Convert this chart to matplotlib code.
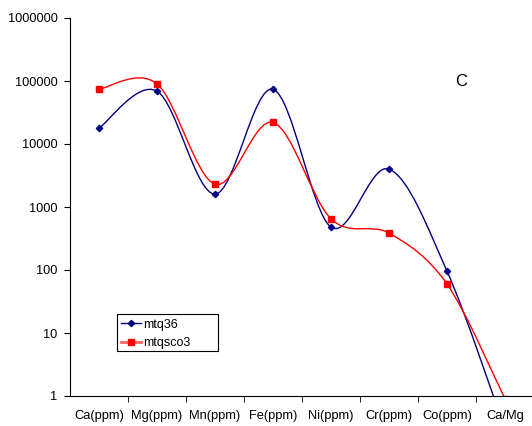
import numpy as np
import matplotlib
matplotlib.use('Agg')
from matplotlib import pyplot as plt
from matplotlib.path import Path
from matplotlib.patches import PathPatch, Rectangle
from matplotlib.lines import Line2D

categories = ['Ca(ppm)', 'Mg(ppm)', 'Mn(ppm)', 'Fe(ppm)', 'Ni(ppm)', 'Cr(ppm)', 'Co(ppm)', 'Ca/Mg']
mtq36 = [17800, 69000, 1600, 74000, 480, 4000, 96, 0.3]
mtqsco3 = [74000, 90000, 2300, 22000, 650, 385, 60, 0.9]

plt.rcParams['font.family'] = ['Liberation Sans', 'DejaVu Sans']


def smooth_path(xs, ys):
    # catmull-rom style bezier, built in log space so it looks like excel's smoothed line
    lx = np.array(xs, dtype=float)
    ly = np.log10(np.array(ys, dtype=float))
    n = len(lx)
    verts = [(lx[0], ly[0])]
    codes = [Path.MOVETO]
    for i in range(n - 1):
        p0 = np.array([lx[max(i - 1, 0)], ly[max(i - 1, 0)]])
        p1 = np.array([lx[i], ly[i]])
        p2 = np.array([lx[i + 1], ly[i + 1]])
        p3 = np.array([lx[min(i + 2, n - 1)], ly[min(i + 2, n - 1)]])
        c1 = p1 + (p2 - p0) / 6
        c2 = p2 - (p3 - p1) / 6
        verts += [tuple(c1), tuple(c2), tuple(p2)]
        codes += [Path.CURVE4] * 3
    verts = [(x, 10 ** y) for x, y in verts]
    return Path(verts, codes)


fig = plt.figure(figsize=(5.32, 4.26), dpi=100)
ax = fig.add_axes([70 / 532, 30 / 426, 464 / 532, 378 / 426])
ax.set_yscale('log')
ax.set_ylim(1, 1000000)
ax.set_xlim(-0.5, len(categories) - 0.5)

x = np.arange(len(categories))
for vals, col, mk, ms in [(mtq36, '#000080', 'D', 3.2), (mtqsco3, '#ff0000', 's', 4.5)]:
    ax.add_patch(PathPatch(smooth_path(x, vals), facecolor='none', edgecolor=col, lw=1.0))
    ax.plot(x, vals, linestyle='none', marker=mk, markersize=ms, color=col)

ax.spines['top'].set_visible(False)
ax.spines['right'].set_visible(False)
ax.set_yticks([1, 10, 100, 1000, 10000, 100000, 1000000])
ax.set_yticklabels(['1', '10', '100', '1000', '10000', '100000', '1000000'])
ax.yaxis.set_minor_locator(matplotlib.ticker.NullLocator())
ax.set_xticks(x)
ax.set_xticklabels(categories)
ax.set_xticks(np.arange(len(categories)) + 0.5, minor=True)
ax.tick_params(axis='x', which='major', length=0, labelsize=9.3, pad=10)
ax.tick_params(axis='x', which='minor', length=4, direction='out')
ax.tick_params(axis='y', length=4, labelsize=9.2, pad=5)

ax.text(6.25, 100000, 'C', fontsize=12, ha='center', va='center')

handles = [Line2D([], [], color='#000080', marker='D', markersize=3.2, lw=1.0),
           Line2D([], [], color='#ff6666', marker='s', markersize=4.5, markerfacecolor='#ff0000',
                  markeredgecolor='#ff0000', lw=2.0)]
leg = ax.legend(handles, ['mtq36', 'mtqsco3'], loc='lower left', bbox_to_anchor=(51 / 464, 47 / 378),
                fontsize=9, frameon=False, borderpad=0.0, borderaxespad=0.0,
                handlelength=1.6, labelspacing=0.5, handletextpad=0.2)
ax.add_patch(Rectangle((47 / 464, 45 / 378), 101 / 464, 37 / 378, transform=ax.transAxes,
                       facecolor='none', edgecolor='black', lw=0.8, zorder=5))

fig.savefig('out.png', dpi=100)
